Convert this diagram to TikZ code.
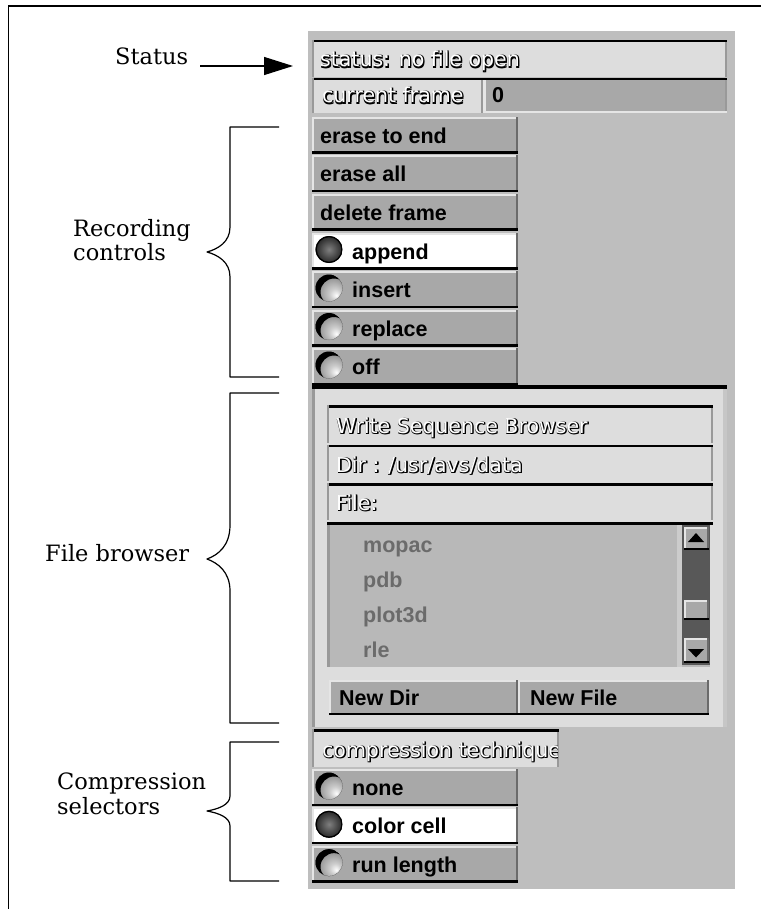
\documentclass[tikz,border=0pt]{standalone}
\usepackage{fontspec}
\setmainfont{DejaVu Serif}
\newfontfamily\guisans{Liberation Sans}
\newfontfamily\guiplain{DejaVu Sans}
\usetikzlibrary{arrows.meta,calc}

% widget palette
\definecolor{panelbg}{gray}{0.745}
\definecolor{fieldbg}{gray}{0.865}
\definecolor{btnbg}{gray}{0.660}
\definecolor{listbg}{gray}{0.720}
\definecolor{trough}{gray}{0.345}
\definecolor{edgedark}{gray}{0.42}
\definecolor{edgemid}{gray}{0.60}
\definecolor{hilite}{gray}{0.90}
\definecolor{listtext}{gray}{0.42}

\pgfdeclareradialshading{radiobulb}{\pgfpoint{14bp}{-14bp}}{%
  color(0bp)=(white); color(10bp)=(white!80!black);
  color(28bp)=(black!45); color(50bp)=(black!75)}

\tikzset{
  btntext/.style={font=\guisans\bfseries\fontsize{21.5}{24}\selectfont,
    anchor=base west, inner sep=0pt},
  embtext/.style={font=\guiplain\fontsize{20.5}{24}\selectfont,
    anchor=base west, inner sep=0pt},
  listitem/.style={btntext, text=listtext},
  callout/.style={font=\fontsize{22.5}{24.5}\selectfont, inner sep=0pt},
  brace/.style={line width=1.2pt, line join=round},
}

% raised widget: light top/left, dark right, black bottom
\newcommand\guiraised[5]{%
  \fill[#5] (#1,#2) rectangle (#3,#4);
  \fill[hilite] (#1,#2) rectangle (#3,#2+2);
  \fill[hilite] (#1,#2) rectangle (#1+2,#4);
  \fill[edgedark] (#3-2,#2) rectangle (#3,#4);
  \fill[black] (#1,#4-2.5) rectangle (#3,#4);}

% sunken widget: black top, grey sides
\newcommand\guisunken[5]{%
  \fill[#5] (#1,#2) rectangle (#3,#4);
  \fill[black] (#1,#2) rectangle (#3,#2+2.5);
  \fill[edgemid] (#1,#2) rectangle (#1+2,#4);
  \fill[edgemid] (#3-2,#2+2.5) rectangle (#3,#4);}

% white label text with a black drop shadow
\newcommand\guiemboss[4]{%
  \node[embtext, text=black] (#1s) at (#2+1.4,#3+1.4) {#4};
  \node[embtext, text=black] (#1r) at (#2+1.4,#3) {#4};
  \node[embtext, text=black] (#1d) at (#2,#3+1.2) {#4};
  \node[embtext, text=white] (#1) at (#2,#3) {#4};}

% radio indicators
\newcommand\radiooff[2]{%
  \begin{scope}
    \clip (#1,#2) circle (13.5);
    \shade[shading=radiobulb] (#1-13.5,#2-13.5) rectangle (#1+13.5,#2+13.5);
    \fill[black, even odd rule] (#1,#2) circle (13.5) (#1+5,#2+4) circle (13.5);
  \end{scope}}
\newcommand\radioon[2]{%
  \shade[inner color=black!50, outer color=black!85] (#1,#2) circle (13.5);
  \draw[black, line width=1.2pt] (#1,#2) circle (12.9);}

\begin{document}
\begin{tikzpicture}[x=1pt, y=-1pt]
\useasboundingbox (0,0) rectangle (761,909);
\fill[white] (0,0) rectangle (761,909);

% outer frame
\draw[line width=1.3pt] (8.5,909) -- (8.5,6) -- (761,6);

% ---------- control panel ----------
\fill[panelbg] (308,31) rectangle (735,889);

% status line
\guisunken{312}{40}{727}{77}{fieldbg}
\guiemboss{statustxt}{320}{67}{status: no file open}

% current frame
\guisunken{312}{78}{483}{113}{fieldbg}
\fill[btnbg] (483,78) rectangle (727,113);
\fill[black] (483,78) rectangle (727,80.5);
\fill[hilite] (483,80.5) rectangle (485.5,113);
\fill[hilite] (483,111) rectangle (727,113);
\fill[edgemid] (725,80.5) rectangle (727,111);
\guiemboss{frametxt}{322}{103}{current frame}
\node[btntext] (frameval) at (492,103) {0};

% recording push buttons
\foreach \t/\lab/\nm in {117/erase to end/erasetoend, 155.5/erase all/eraseall, 194/delete frame/delframe}{
  \guiraised{312}{\t}{518}{\t+37}{btnbg}
  \node[btntext] (\nm) at (320,\t+26.5) {\lab};
}

% recording mode radio buttons
\foreach \t/\lab/\nm/\bg in {232.5/append/append/white, 271/insert/insert/btnbg, 309.5/replace/replace/btnbg, 348/off/off/btnbg}{
  \guiraised{312}{\t}{518}{\t+37}{\bg}
  \node[btntext] (\nm) at (352,\t+26.5) {\lab};
}
\radioon{329}{249.5}
\radiooff{329}{288}
\radiooff{329}{326.5}
\radiooff{329}{365}

% file browser frame
\fill[fieldbg] (312,386) rectangle (727,727);
\fill[black] (312,385) rectangle (727,389);
\fill[edgemid] (312,389) rectangle (315,727);
\fill[gray!45] (723,389) rectangle (727,727);

\guisunken{327}{405}{713}{443}{fieldbg}
\guisunken{327}{444.5}{713}{481}{fieldbg}
\guisunken{327}{483}{713}{520}{fieldbg}
\guiemboss{wsbtxt}{336}{433}{Write Sequence Browser}
\guiemboss{dirtxt}{336}{472}{Dir : /usr/avs/data}
\guiemboss{filetxt}{336}{510}{File:}

% file list with scroll bar
\fill[listbg] (327,522) rectangle (713,667);
\fill[black] (327,522) rectangle (713,524.5);
\fill[edgemid] (327,524.5) rectangle (329.5,667);
\fill[gray!40] (677,524.5) rectangle (682,667);
\fill[trough] (682,524.5) rectangle (710,665);
\fill[fieldbg] (710,524.5) rectangle (713,667);
\guiraised{684}{527}{709}{550}{btnbg}
\fill[black] (688,542) -- (704,542) -- (696,533) -- cycle;
\guiraised{684}{600}{709}{620}{btnbg}
\guiraised{684}{638}{709}{663}{btnbg}
\fill[black] (688,649) -- (704,649) -- (696,657.5) -- cycle;

\node[listitem] (mopac) at (363,552) {mopac};
\node[listitem] (pdb) at (363,587) {pdb};
\node[listitem] (plotthreed) at (363,622) {plot3d};
\node[listitem] (rle) at (363,657) {rle};

% browser buttons
\guiraised{329}{680}{518}{715}{btnbg}
\guiraised{518}{680}{709}{715}{btnbg}
\node[btntext] (newdir) at (339,705) {New Dir};
\node[btntext] (newfile) at (530,705) {New File};

% compression technique
\guisunken{312}{729}{559}{767}{fieldbg}
\begin{scope}
  \clip (312,729) rectangle (557,767);
  \guiemboss{comptxt}{322}{757}{compression technique}
\end{scope}
\foreach \t/\lab/\nm/\bg in {769/none/none/btnbg, 807.3/color cell/colorcell/white, 845.6/run length/runlength/btnbg}{
  \guiraised{312}{\t}{518}{\t+37}{\bg}
  \node[btntext] (\nm) at (352,\t+26.5) {\lab};
}
\radiooff{329}{786}
\radioon{329}{824.3}
\radiooff{329}{862.6}

% ---------- call-outs ----------
\node[callout, anchor=base west] (lblstatus) at (115,65) {Status};
\coordinate (statustip) at (293,66);
\draw[line width=1.3pt, -{Triangle[length=29pt,width=18pt]}]
  ([xshift=12pt,yshift=-1pt]lblstatus.base east) -- (statustip);

\node[callout, anchor=north west, align=left] (lblrec) at (73,219) {Recording\\controls};
\draw[brace] (279,127) -- (230,127) -- (230,227)
  .. controls (230,242) and (218,249) .. (207,252)
  .. controls (218,255) and (230,262) .. (230,277) -- (230,377) -- (279,377);

\node[callout, anchor=base west] (lblfile) at (45,561) {File browser};
\draw[brace] (279,393) -- (230,393) -- (230,525)
  .. controls (230,546) and (218,555) .. (207,559)
  .. controls (218,563) and (230,572) .. (230,591) -- (230,723) -- (279,723);

\node[callout, anchor=north west, align=left] (lblcomp) at (57,773) {Compression\\selectors};
\draw[brace] (279,742) -- (230,742) -- (230,796)
  .. controls (230,805) and (218,809) .. (207,811)
  .. controls (218,813) and (230,817) .. (230,826) -- (230,881) -- (279,881);
\end{tikzpicture}
\end{document}
